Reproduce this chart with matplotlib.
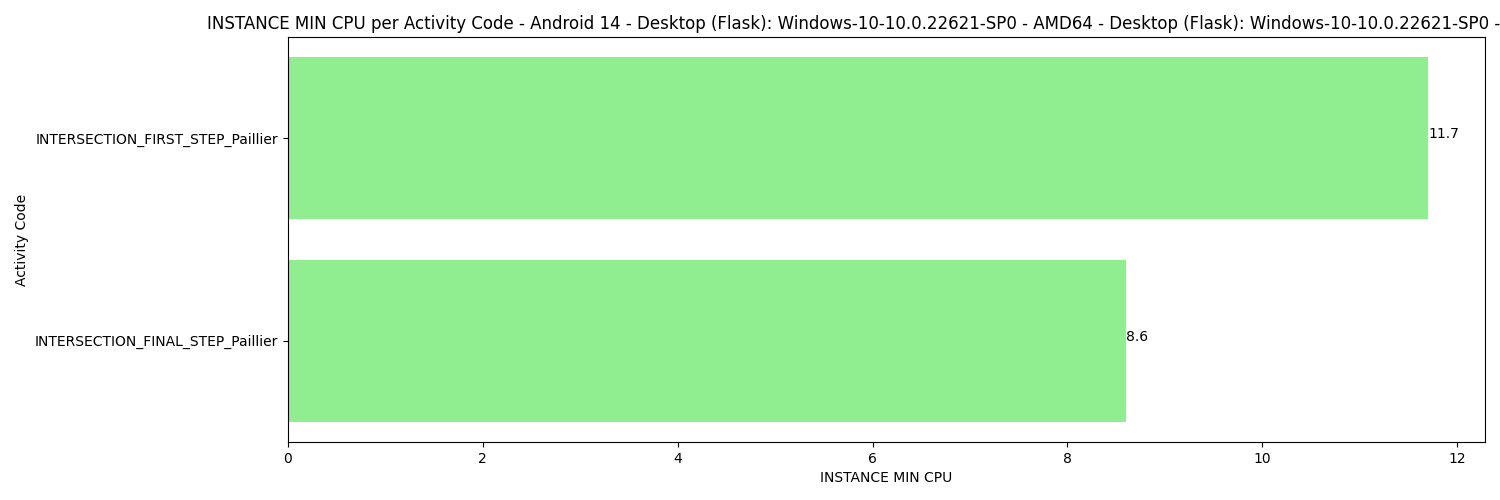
import matplotlib
matplotlib.use("Agg")
import matplotlib.pyplot as plt

activity_codes = ["INTERSECTION_FIRST_STEP_Paillier", "INTERSECTION_FINAL_STEP_Paillier"]
min_cpu = [11.7, 8.6]

title = ("INSTANCE MIN CPU per Activity Code - Android 14 - Desktop (Flask): "
         "Windows-10-10.0.22621-SP0 - AMD64 - Desktop (Flask): "
         "Windows-10-10.0.22621-SP0 - AMD64")

fig, ax = plt.subplots(figsize=(15, 5), dpi=100)
positions = list(range(len(activity_codes)))
ax.barh(positions, min_cpu, height=0.8, color="lightgreen")
ax.set_yticks(positions)
ax.set_yticklabels(activity_codes)
ax.set_ylim(1.5, -0.5)

for i, v in enumerate(min_cpu):
    ax.text(v, i, str(v))

ax.set_xlabel("INSTANCE MIN CPU")
ax.set_ylabel("Activity Code")
ax.set_title(title)

fig.subplots_adjust(left=0.192, right=0.99, top=0.926, bottom=0.116)
fig.savefig("out.png")
plt.close(fig)
